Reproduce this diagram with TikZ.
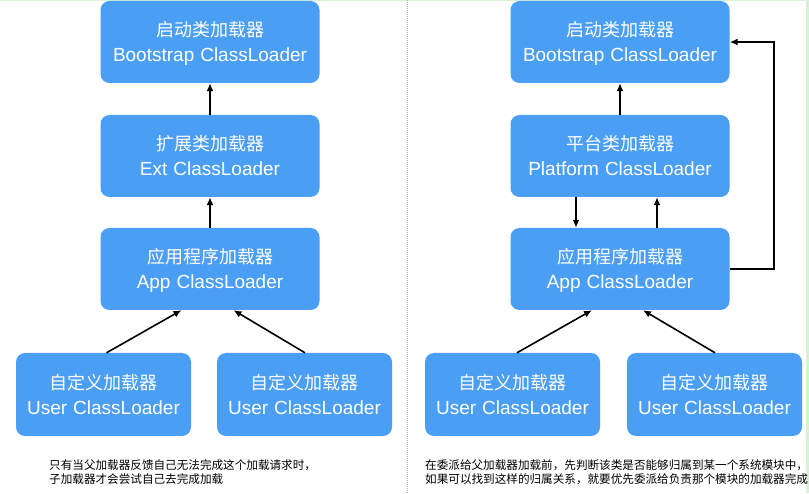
\documentclass[tikz,border=0pt]{standalone}
\usepackage{fontspec}
\setmainfont{Liberation Sans}
\newfontfamily\cjk{Noto Sans CJK SC}
\usepackage{tikz}
\usetikzlibrary{arrows.meta,shapes,positioning}
\definecolor{boxblue}{HTML}{4A9FF5}
\definecolor{edgegreen}{HTML}{DAF1D6}
\tikzstyle{block} = [rectangle, fill=boxblue, text=white, text width=219pt,
    minimum width=219pt, minimum height=82pt, rounded corners=9pt,
    align=center, inner sep=0pt, font=\fontsize{18}{25}\selectfont]
\tikzstyle{userblock} = [block, text width=175pt, minimum width=175pt, minimum height=83pt]
\tikzstyle{line} = [draw, line width=1.6pt, color=black, -{Latex[length=8pt,width=7pt]}]
\tikzstyle{note} = [anchor=west, inner sep=0pt, font=\cjk\fontsize{11.6}{14}\selectfont]
\newcommand{\cn}[1]{{\cjk\rule{0pt}{20pt}#1}}
\newcommand{\en}[1]{{\fontsize{19}{25}\selectfont\rule[-5pt]{0pt}{5pt}#1}}

\begin{document}
\begin{tikzpicture}[x=1pt, y=1pt, node distance=114pt]
  \useasboundingbox (0,0) rectangle (809,493);
  \fill[white] (0,0) rectangle (809,493);
  \fill[edgegreen] (806,0) rectangle (809,493);
  \fill[edgegreen] (0,492) rectangle (809,493);
  % Separator
  \draw[gray!60, dash pattern=on 1pt off 1pt] (407,0) -- (407,493);

  % Place nodes: left side
  \node [block] (bootL) at (210,451) {\cn{启动类加载器}\\ \en{Bootstrap ClassLoader}};
  \node [block, below of=bootL] (extL) {\cn{扩展类加载器}\\ \en{Ext ClassLoader}};
  \node [block, below of=extL, node distance=113pt] (appL) {\cn{应用程序加载器}\\ \en{App ClassLoader}};
  \node [userblock] (userL1) at (103.5,98.5) {\cn{自定义加载器}\\ \en{User ClassLoader}};
  \node [userblock, right of=userL1, node distance=201pt] (userL2) {\cn{自定义加载器}\\ \en{User ClassLoader}};
  \node [note] (noteL1) at (49,27.7) {只有当父加载器反馈自己无法完成这个加载请求时，};
  \node [note] (noteL2) at ([yshift=-13.5pt]noteL1.west) {子加载器才会尝试自己去完成加载};

  % Place nodes: right side
  \node [block] (bootR) at (620,451) {\cn{启动类加载器}\\ \en{Bootstrap ClassLoader}};
  \node [block, below of=bootR] (platR) {\cn{平台类加载器}\\ \en{Platform ClassLoader}};
  \node [block, below of=platR, node distance=113pt] (appR) {\cn{应用程序加载器}\\ \en{App ClassLoader}};
  \node [userblock] (userR1) at (512.5,98.5) {\cn{自定义加载器}\\ \en{User ClassLoader}};
  \node [userblock, right of=userR1, node distance=202pt] (userR2) {\cn{自定义加载器}\\ \en{User ClassLoader}};
  \node [note] (noteR1) at (425,27.7) {在委派给父加载器加载前，先判断该类是否能够归属到某一个系统模块中，};
  \node [note] (noteR2) at ([yshift=-13.5pt]noteR1.west) {如果可以找到这样的归属关系，就要优先委派给负责那个模块的加载器完成};

  % Draw edges: left side
  \path [line] (extL) -- (bootL);
  \path [line] (appL) -- (extL);
  \path [line] ([xshift=3pt]userL1.north) -- ([xshift=-28.5pt]appL.south);
  \path [line] ([xshift=0.5pt]userL2.north) -- ([xshift=23.5pt]appL.south);

  % Draw edges: right side
  \path [line] (platR) -- (bootR);
  \path [line] ([xshift=-44pt]platR.south) -- ([xshift=-44pt]appR.north);
  \path [line] ([xshift=37pt]appR.north) -- ([xshift=37pt]platR.south);
  \path [line] (appR.east) -- ++(44pt,0) |- (bootR.east);
  \path [line] ([xshift=4.5pt]userR1.north) -- ([xshift=-28pt]appR.south);
  \path [line] ([xshift=0.5pt]userR2.north) -- ([xshift=23pt]appR.south);
\end{tikzpicture}
\end{document}
